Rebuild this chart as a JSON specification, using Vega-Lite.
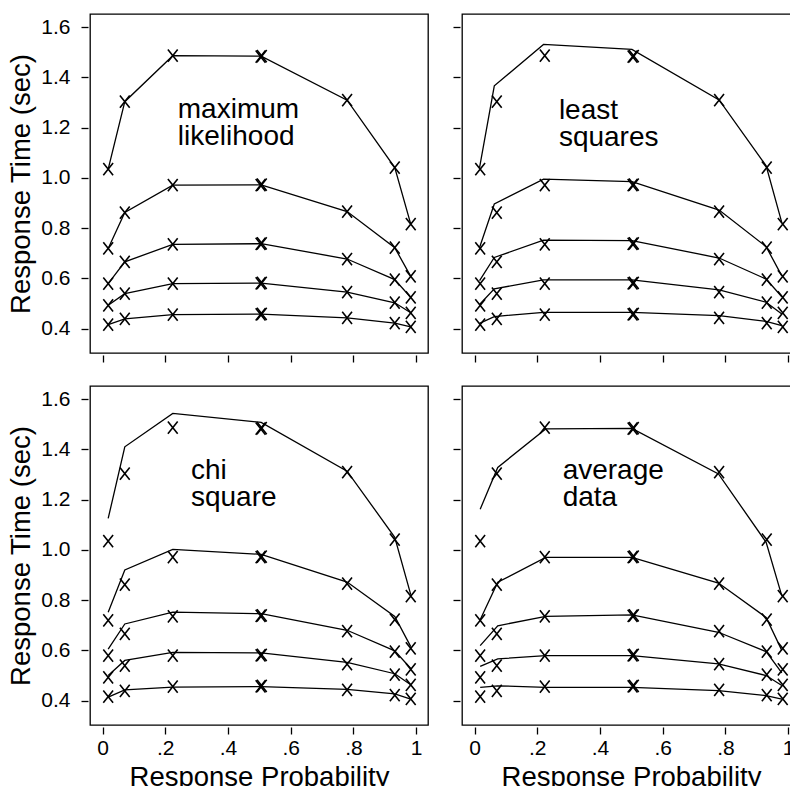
{
  "$schema": "https://vega.github.io/schema/vega-lite/v6.json",
  "padding": {"left": 7, "top": 13, "right": 0, "bottom": 0},
  "background": "white",
  "config": {
    "font": "Liberation Sans",
    "view": {"stroke": "black", "strokeWidth": 1.3},
    "axis": {"domain": false, "grid": false, "tickColor": "black", "tickWidth": 1.3, "tickSize": 7, "offset": 2, "labelColor": "black", "labelFontSize": 21, "labelFont": "Liberation Sans", "titleColor": "black", "titleFontSize": 27.5, "titleFont": "Liberation Sans", "titleFontWeight": "normal", "labelFlush": false}
  },
  "datasets": {
    "obs": [
      {"q": "q9", "p": 0.018, "rt": 1.035}, {"q": "q9", "p": 0.071, "rt": 1.303}, {"q": "q9", "p": 0.224, "rt": 1.486}, {"q": "q9", "p": 0.504, "rt": 1.482}, {"q": "q9", "p": 0.508, "rt": 1.484}, {"q": "q9", "p": 0.78, "rt": 1.309}, {"q": "q9", "p": 0.932, "rt": 1.041}, {"q": "q9", "p": 0.983, "rt": 0.816},
      {"q": "q7", "p": 0.018, "rt": 0.719}, {"q": "q7", "p": 0.071, "rt": 0.862}, {"q": "q7", "p": 0.224, "rt": 0.971}, {"q": "q7", "p": 0.504, "rt": 0.971}, {"q": "q7", "p": 0.508, "rt": 0.973}, {"q": "q7", "p": 0.78, "rt": 0.866}, {"q": "q7", "p": 0.932, "rt": 0.722}, {"q": "q7", "p": 0.983, "rt": 0.608},
      {"q": "q5", "p": 0.018, "rt": 0.579}, {"q": "q5", "p": 0.071, "rt": 0.666}, {"q": "q5", "p": 0.224, "rt": 0.735}, {"q": "q5", "p": 0.504, "rt": 0.737}, {"q": "q5", "p": 0.508, "rt": 0.739}, {"q": "q5", "p": 0.78, "rt": 0.677}, {"q": "q5", "p": 0.932, "rt": 0.595}, {"q": "q5", "p": 0.983, "rt": 0.524},
      {"q": "q3", "p": 0.018, "rt": 0.493}, {"q": "q3", "p": 0.071, "rt": 0.539}, {"q": "q3", "p": 0.224, "rt": 0.579}, {"q": "q3", "p": 0.504, "rt": 0.58}, {"q": "q3", "p": 0.508, "rt": 0.582}, {"q": "q3", "p": 0.78, "rt": 0.545}, {"q": "q3", "p": 0.932, "rt": 0.503}, {"q": "q3", "p": 0.983, "rt": 0.463},
      {"q": "q1", "p": 0.018, "rt": 0.416}, {"q": "q1", "p": 0.071, "rt": 0.439}, {"q": "q1", "p": 0.224, "rt": 0.456}, {"q": "q1", "p": 0.504, "rt": 0.457}, {"q": "q1", "p": 0.508, "rt": 0.459}, {"q": "q1", "p": 0.78, "rt": 0.443}, {"q": "q1", "p": 0.932, "rt": 0.422}, {"q": "q1", "p": 0.983, "rt": 0.407}
    ],
    "fit": [
      {"panel": "ml", "q": "q9", "p": 0.018, "rt": 1.035}, {"panel": "ml", "q": "q9", "p": 0.071, "rt": 1.303}, {"panel": "ml", "q": "q9", "p": 0.224, "rt": 1.486}, {"panel": "ml", "q": "q9", "p": 0.506, "rt": 1.484}, {"panel": "ml", "q": "q9", "p": 0.78, "rt": 1.309}, {"panel": "ml", "q": "q9", "p": 0.932, "rt": 1.041}, {"panel": "ml", "q": "q9", "p": 0.983, "rt": 0.816},
      {"panel": "ml", "q": "q7", "p": 0.018, "rt": 0.719}, {"panel": "ml", "q": "q7", "p": 0.071, "rt": 0.862}, {"panel": "ml", "q": "q7", "p": 0.224, "rt": 0.971}, {"panel": "ml", "q": "q7", "p": 0.506, "rt": 0.972}, {"panel": "ml", "q": "q7", "p": 0.78, "rt": 0.866}, {"panel": "ml", "q": "q7", "p": 0.932, "rt": 0.722}, {"panel": "ml", "q": "q7", "p": 0.983, "rt": 0.608},
      {"panel": "ml", "q": "q5", "p": 0.018, "rt": 0.579}, {"panel": "ml", "q": "q5", "p": 0.071, "rt": 0.666}, {"panel": "ml", "q": "q5", "p": 0.224, "rt": 0.735}, {"panel": "ml", "q": "q5", "p": 0.506, "rt": 0.738}, {"panel": "ml", "q": "q5", "p": 0.78, "rt": 0.677}, {"panel": "ml", "q": "q5", "p": 0.932, "rt": 0.595}, {"panel": "ml", "q": "q5", "p": 0.983, "rt": 0.524},
      {"panel": "ml", "q": "q3", "p": 0.018, "rt": 0.493}, {"panel": "ml", "q": "q3", "p": 0.071, "rt": 0.539}, {"panel": "ml", "q": "q3", "p": 0.224, "rt": 0.579}, {"panel": "ml", "q": "q3", "p": 0.506, "rt": 0.581}, {"panel": "ml", "q": "q3", "p": 0.78, "rt": 0.545}, {"panel": "ml", "q": "q3", "p": 0.932, "rt": 0.503}, {"panel": "ml", "q": "q3", "p": 0.983, "rt": 0.463},
      {"panel": "ml", "q": "q1", "p": 0.018, "rt": 0.416}, {"panel": "ml", "q": "q1", "p": 0.071, "rt": 0.439}, {"panel": "ml", "q": "q1", "p": 0.224, "rt": 0.456}, {"panel": "ml", "q": "q1", "p": 0.506, "rt": 0.458}, {"panel": "ml", "q": "q1", "p": 0.78, "rt": 0.443}, {"panel": "ml", "q": "q1", "p": 0.932, "rt": 0.422}, {"panel": "ml", "q": "q1", "p": 0.983, "rt": 0.407},

      {"panel": "ls", "q": "q9", "p": 0.016, "rt": 1.041}, {"panel": "ls", "q": "q9", "p": 0.063, "rt": 1.366}, {"panel": "ls", "q": "q9", "p": 0.22, "rt": 1.531}, {"panel": "ls", "q": "q9", "p": 0.502, "rt": 1.511}, {"panel": "ls", "q": "q9", "p": 0.78, "rt": 1.31}, {"panel": "ls", "q": "q9", "p": 0.93, "rt": 1.048}, {"panel": "ls", "q": "q9", "p": 0.98, "rt": 0.822},
      {"panel": "ls", "q": "q7", "p": 0.016, "rt": 0.723}, {"panel": "ls", "q": "q7", "p": 0.063, "rt": 0.896}, {"panel": "ls", "q": "q7", "p": 0.22, "rt": 0.995}, {"panel": "ls", "q": "q7", "p": 0.502, "rt": 0.985}, {"panel": "ls", "q": "q7", "p": 0.78, "rt": 0.872}, {"panel": "ls", "q": "q7", "p": 0.93, "rt": 0.726}, {"panel": "ls", "q": "q7", "p": 0.98, "rt": 0.61},
      {"panel": "ls", "q": "q5", "p": 0.016, "rt": 0.591}, {"panel": "ls", "q": "q5", "p": 0.063, "rt": 0.683}, {"panel": "ls", "q": "q5", "p": 0.22, "rt": 0.752}, {"panel": "ls", "q": "q5", "p": 0.502, "rt": 0.75}, {"panel": "ls", "q": "q5", "p": 0.78, "rt": 0.681}, {"panel": "ls", "q": "q5", "p": 0.93, "rt": 0.597}, {"panel": "ls", "q": "q5", "p": 0.98, "rt": 0.527},
      {"panel": "ls", "q": "q3", "p": 0.016, "rt": 0.496}, {"panel": "ls", "q": "q3", "p": 0.063, "rt": 0.558}, {"panel": "ls", "q": "q3", "p": 0.22, "rt": 0.594}, {"panel": "ls", "q": "q3", "p": 0.502, "rt": 0.594}, {"panel": "ls", "q": "q3", "p": 0.78, "rt": 0.554}, {"panel": "ls", "q": "q3", "p": 0.93, "rt": 0.505}, {"panel": "ls", "q": "q3", "p": 0.98, "rt": 0.458},
      {"panel": "ls", "q": "q1", "p": 0.016, "rt": 0.421}, {"panel": "ls", "q": "q1", "p": 0.063, "rt": 0.448}, {"panel": "ls", "q": "q1", "p": 0.22, "rt": 0.465}, {"panel": "ls", "q": "q1", "p": 0.502, "rt": 0.465}, {"panel": "ls", "q": "q1", "p": 0.78, "rt": 0.452}, {"panel": "ls", "q": "q1", "p": 0.93, "rt": 0.429}, {"panel": "ls", "q": "q1", "p": 0.98, "rt": 0.412},

      {"panel": "chi", "q": "q9", "p": 0.018, "rt": 1.125}, {"panel": "chi", "q": "q9", "p": 0.071, "rt": 1.41}, {"panel": "chi", "q": "q9", "p": 0.224, "rt": 1.543}, {"panel": "chi", "q": "q9", "p": 0.506, "rt": 1.507}, {"panel": "chi", "q": "q9", "p": 0.78, "rt": 1.313}, {"panel": "chi", "q": "q9", "p": 0.932, "rt": 1.05}, {"panel": "chi", "q": "q9", "p": 0.983, "rt": 0.822},
      {"panel": "chi", "q": "q7", "p": 0.018, "rt": 0.752}, {"panel": "chi", "q": "q7", "p": 0.071, "rt": 0.92}, {"panel": "chi", "q": "q7", "p": 0.224, "rt": 1.002}, {"panel": "chi", "q": "q7", "p": 0.506, "rt": 0.982}, {"panel": "chi", "q": "q7", "p": 0.78, "rt": 0.872}, {"panel": "chi", "q": "q7", "p": 0.932, "rt": 0.735}, {"panel": "chi", "q": "q7", "p": 0.983, "rt": 0.615},
      {"panel": "chi", "q": "q5", "p": 0.018, "rt": 0.605}, {"panel": "chi", "q": "q5", "p": 0.071, "rt": 0.705}, {"panel": "chi", "q": "q5", "p": 0.224, "rt": 0.752}, {"panel": "chi", "q": "q5", "p": 0.506, "rt": 0.746}, {"panel": "chi", "q": "q5", "p": 0.78, "rt": 0.68}, {"panel": "chi", "q": "q5", "p": 0.932, "rt": 0.598}, {"panel": "chi", "q": "q5", "p": 0.983, "rt": 0.528},
      {"panel": "chi", "q": "q3", "p": 0.018, "rt": 0.5}, {"panel": "chi", "q": "q3", "p": 0.071, "rt": 0.56}, {"panel": "chi", "q": "q3", "p": 0.224, "rt": 0.592}, {"panel": "chi", "q": "q3", "p": 0.506, "rt": 0.59}, {"panel": "chi", "q": "q3", "p": 0.78, "rt": 0.552}, {"panel": "chi", "q": "q3", "p": 0.932, "rt": 0.507}, {"panel": "chi", "q": "q3", "p": 0.983, "rt": 0.463},
      {"panel": "chi", "q": "q1", "p": 0.018, "rt": 0.414}, {"panel": "chi", "q": "q1", "p": 0.071, "rt": 0.443}, {"panel": "chi", "q": "q1", "p": 0.224, "rt": 0.454}, {"panel": "chi", "q": "q1", "p": 0.506, "rt": 0.456}, {"panel": "chi", "q": "q1", "p": 0.78, "rt": 0.445}, {"panel": "chi", "q": "q1", "p": 0.932, "rt": 0.427}, {"panel": "chi", "q": "q1", "p": 0.983, "rt": 0.406},

      {"panel": "avg", "q": "q9", "p": 0.018, "rt": 1.162}, {"panel": "avg", "q": "q9", "p": 0.074, "rt": 1.328}, {"panel": "avg", "q": "q9", "p": 0.227, "rt": 1.481}, {"panel": "avg", "q": "q9", "p": 0.502, "rt": 1.483}, {"panel": "avg", "q": "q9", "p": 0.778, "rt": 1.302}, {"panel": "avg", "q": "q9", "p": 0.93, "rt": 1.03}, {"panel": "avg", "q": "q9", "p": 0.98, "rt": 0.817},
      {"panel": "avg", "q": "q7", "p": 0.018, "rt": 0.722}, {"panel": "avg", "q": "q7", "p": 0.074, "rt": 0.871}, {"panel": "avg", "q": "q7", "p": 0.227, "rt": 0.97}, {"panel": "avg", "q": "q7", "p": 0.502, "rt": 0.97}, {"panel": "avg", "q": "q7", "p": 0.778, "rt": 0.868}, {"panel": "avg", "q": "q7", "p": 0.93, "rt": 0.731}, {"panel": "avg", "q": "q7", "p": 0.98, "rt": 0.6},
      {"panel": "avg", "q": "q5", "p": 0.018, "rt": 0.619}, {"panel": "avg", "q": "q5", "p": 0.074, "rt": 0.698}, {"panel": "avg", "q": "q5", "p": 0.227, "rt": 0.735}, {"panel": "avg", "q": "q5", "p": 0.502, "rt": 0.741}, {"panel": "avg", "q": "q5", "p": 0.778, "rt": 0.672}, {"panel": "avg", "q": "q5", "p": 0.93, "rt": 0.595}, {"panel": "avg", "q": "q5", "p": 0.98, "rt": 0.51},
      {"panel": "avg", "q": "q3", "p": 0.018, "rt": 0.536}, {"panel": "avg", "q": "q3", "p": 0.074, "rt": 0.566}, {"panel": "avg", "q": "q3", "p": 0.227, "rt": 0.579}, {"panel": "avg", "q": "q3", "p": 0.502, "rt": 0.579}, {"panel": "avg", "q": "q3", "p": 0.778, "rt": 0.546}, {"panel": "avg", "q": "q3", "p": 0.93, "rt": 0.5}, {"panel": "avg", "q": "q3", "p": 0.98, "rt": 0.46},
      {"panel": "avg", "q": "q1", "p": 0.018, "rt": 0.453}, {"panel": "avg", "q": "q1", "p": 0.074, "rt": 0.459}, {"panel": "avg", "q": "q1", "p": 0.227, "rt": 0.453}, {"panel": "avg", "q": "q1", "p": 0.502, "rt": 0.453}, {"panel": "avg", "q": "q1", "p": 0.778, "rt": 0.44}, {"panel": "avg", "q": "q1", "p": 0.93, "rt": 0.42}, {"panel": "avg", "q": "q1", "p": 0.98, "rt": 0.406}
    ],
    "labels": [
      {"panel": "ml", "p": 0.24, "rt": 1.238, "label": "maximum\nlikelihood"},
      {"panel": "ls", "p": 0.269, "rt": 1.233, "label": "least\nsquares"},
      {"panel": "chi", "p": 0.282, "rt": 1.282, "label": "chi\nsquare"},
      {"panel": "avg", "p": 0.281, "rt": 1.282, "label": "average\ndata"}
    ]
  },
  "spacing": 21,
  "vconcat": [
    {
      "spacing": 22,
      "hconcat": [
        {
          "width": 338, "height": 339,
          "encoding": {
            "x": {"field": "p", "type": "quantitative", "scale": {"domain": [-0.04, 1.038], "nice": false, "zero": false}, "axis": {"values": [0, 0.2, 0.4, 0.6, 0.8, 1], "labels": false, "title": null}},
            "y": {"field": "rt", "type": "quantitative", "scale": {"domain": [0.303, 1.652], "nice": false, "zero": false}, "axis": {"values": [0.4, 0.6, 0.8, 1.0, 1.2, 1.4, 1.6], "format": ".1f", "title": "Response Time (sec)", "labelPadding": 11, "titlePadding": 5}}
          },
          "layer": [
            {"data": {"name": "fit"}, "transform": [{"filter": "datum.panel == 'ml'"}], "mark": {"type": "line", "color": "black", "strokeWidth": 1.3}, "encoding": {"detail": {"field": "q"}}},
            {"data": {"name": "obs"}, "mark": {"type": "point", "shape": "M-0.8,-1L0.8,1M0.8,-1L-0.8,1", "filled": false, "size": 150, "stroke": "black", "strokeWidth": 1.6, "opacity": 1}},
            {"data": {"name": "labels"}, "transform": [{"filter": "datum.panel == 'ml'"}], "mark": {"type": "text", "align": "left", "baseline": "alphabetic", "fontSize": 28, "lineHeight": 27, "lineBreak": "\n", "color": "black"}, "encoding": {"text": {"field": "label"}}}
          ]
        },
        {
          "width": 338, "height": 339,
          "encoding": {
            "x": {"field": "p", "type": "quantitative", "scale": {"domain": [-0.04, 1.038], "nice": false, "zero": false}, "axis": {"values": [0, 0.2, 0.4, 0.6, 0.8, 1], "labels": false, "title": null}},
            "y": {"field": "rt", "type": "quantitative", "scale": {"domain": [0.303, 1.652], "nice": false, "zero": false}, "axis": {"values": [0.4, 0.6, 0.8, 1.0, 1.2, 1.4, 1.6], "labels": false, "title": null}}
          },
          "layer": [
            {"data": {"name": "fit"}, "transform": [{"filter": "datum.panel == 'ls'"}], "mark": {"type": "line", "color": "black", "strokeWidth": 1.3}, "encoding": {"detail": {"field": "q"}}},
            {"data": {"name": "obs"}, "mark": {"type": "point", "shape": "M-0.8,-1L0.8,1M0.8,-1L-0.8,1", "filled": false, "size": 150, "stroke": "black", "strokeWidth": 1.6, "opacity": 1}},
            {"data": {"name": "labels"}, "transform": [{"filter": "datum.panel == 'ls'"}], "mark": {"type": "text", "align": "left", "baseline": "alphabetic", "fontSize": 28, "lineHeight": 27, "lineBreak": "\n", "color": "black"}, "encoding": {"text": {"field": "label"}}}
          ]
        }
      ]
    },
    {
      "spacing": 22,
      "hconcat": [
        {
          "width": 338, "height": 339,
          "encoding": {
            "x": {"field": "p", "type": "quantitative", "scale": {"domain": [-0.04, 1.038], "nice": false, "zero": false}, "axis": {"values": [0, 0.2, 0.4, 0.6, 0.8, 1], "labelExpr": "datum.value == 0 ? '0' : datum.value == 1 ? '1' : replace(format(datum.value, '.1f'), '0.', '.')", "title": "Response Probability", "labelPadding": 3, "titlePadding": 5}},
            "y": {"field": "rt", "type": "quantitative", "scale": {"domain": [0.303, 1.652], "nice": false, "zero": false}, "axis": {"values": [0.4, 0.6, 0.8, 1.0, 1.2, 1.4, 1.6], "format": ".1f", "title": "Response Time (sec)", "labelPadding": 11, "titlePadding": 5}}
          },
          "layer": [
            {"data": {"name": "fit"}, "transform": [{"filter": "datum.panel == 'chi'"}], "mark": {"type": "line", "color": "black", "strokeWidth": 1.3}, "encoding": {"detail": {"field": "q"}}},
            {"data": {"name": "obs"}, "mark": {"type": "point", "shape": "M-0.8,-1L0.8,1M0.8,-1L-0.8,1", "filled": false, "size": 150, "stroke": "black", "strokeWidth": 1.6, "opacity": 1}},
            {"data": {"name": "labels"}, "transform": [{"filter": "datum.panel == 'chi'"}], "mark": {"type": "text", "align": "left", "baseline": "alphabetic", "fontSize": 28, "lineHeight": 27, "lineBreak": "\n", "color": "black"}, "encoding": {"text": {"field": "label"}}}
          ]
        },
        {
          "width": 338, "height": 339,
          "encoding": {
            "x": {"field": "p", "type": "quantitative", "scale": {"domain": [-0.04, 1.038], "nice": false, "zero": false}, "axis": {"values": [0, 0.2, 0.4, 0.6, 0.8, 1], "labelExpr": "datum.value == 0 ? '0' : datum.value == 1 ? '1' : replace(format(datum.value, '.1f'), '0.', '.')", "title": "Response Probability", "labelPadding": 3, "titlePadding": 5}},
            "y": {"field": "rt", "type": "quantitative", "scale": {"domain": [0.303, 1.652], "nice": false, "zero": false}, "axis": {"values": [0.4, 0.6, 0.8, 1.0, 1.2, 1.4, 1.6], "labels": false, "title": null}}
          },
          "layer": [
            {"data": {"name": "fit"}, "transform": [{"filter": "datum.panel == 'avg'"}], "mark": {"type": "line", "color": "black", "strokeWidth": 1.3}, "encoding": {"detail": {"field": "q"}}},
            {"data": {"name": "obs"}, "mark": {"type": "point", "shape": "M-0.8,-1L0.8,1M0.8,-1L-0.8,1", "filled": false, "size": 150, "stroke": "black", "strokeWidth": 1.6, "opacity": 1}},
            {"data": {"name": "labels"}, "transform": [{"filter": "datum.panel == 'avg'"}], "mark": {"type": "text", "align": "left", "baseline": "alphabetic", "fontSize": 28, "lineHeight": 27, "lineBreak": "\n", "color": "black"}, "encoding": {"text": {"field": "label"}}}
          ]
        }
      ]
    }
  ]
}
